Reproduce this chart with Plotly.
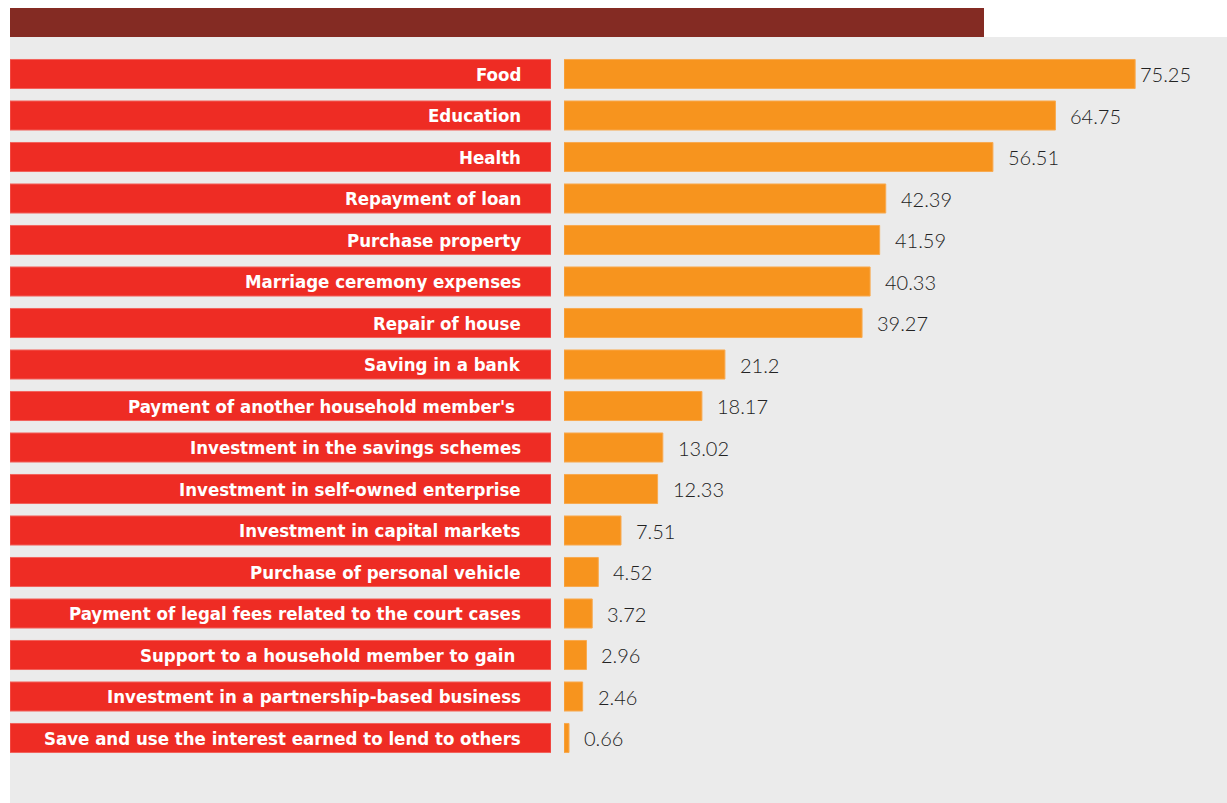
import plotly.graph_objects as go

categories = [
    "Food", "Education", "Health", "Repayment of loan", "Purchase property",
    "Marriage ceremony expenses", "Repair of house", "Saving in a bank",
    "Payment of another household member's ", "Investment in the savings schemes",
    "Investment in self-owned enterprise", "Investment in capital markets",
    "Purchase of personal vehicle", "Payment of legal fees related to the court cases",
    "Support to a household member to gain ", "Investment in a partnership-based business",
    "Save and use the interest earned to lend to others",
]
values = [75.25, 64.75, 56.51, 42.39, 41.59, 40.33, 39.27, 21.2, 18.17, 13.02,
          12.33, 7.51, 4.52, 3.72, 2.96, 2.46, 0.66]
value_labels = ["75.25", "64.75", "56.51", "42.39", "41.59", "40.33", "39.27", "21.2",
                "18.17", "13.02", "12.33", "7.51", "4.52", "3.72", "2.96", "2.46", "0.66"]

W, H = 1227, 803
RED = "#EE2C24"
ORANGE = "#F7941E"

fig = go.Figure()

# label boxes (full-width bars on a secondary x axis)
fig.add_trace(go.Bar(
    y=categories, x=[1] * len(categories), orientation="h",
    xaxis="x2", yaxis="y",
    marker=dict(color=RED, line=dict(color="#F2625C", width=1)),
    width=0.7, hoverinfo="skip", showlegend=False,
))

# value bars
fig.add_trace(go.Bar(
    y=categories, x=values, orientation="h",
    xaxis="x", yaxis="y",
    marker=dict(color=ORANGE, line=dict(color="#F8AA50", width=1)),
    width=0.7, hoverinfo="skip", showlegend=False,
))

annotations = []
vmax = max(values)
for cat, v, lab in zip(categories, values, value_labels):
    annotations.append(dict(
        x=1, y=cat, xref="x2", yref="y", text="<b>" + cat + "</b>",
        showarrow=False, xanchor="right", yanchor="middle", xshift=-28,
        font=dict(family="DejaVu Sans Condensed, Liberation Sans Narrow, Roboto", size=18.5, color="white"),
    ))
    annotations.append(dict(
        x=v, y=cat, xref="x", yref="y", text=lab,
        showarrow=False, xanchor="left", yanchor="middle",
        xshift=3 if v == vmax else 13,
        font=dict(family="Lato, Open Sans, sans-serif", size=20, color="#222222", weight=300),
    ))

x0 = 564
scale = 7.59  # px per unit
shapes = [
    dict(type="rect", xref="paper", yref="paper", x0=10 / W, x1=984 / W,
         y0=1 - 37 / H, y1=1 - 8 / H, fillcolor="#842B23", line=dict(width=0), layer="below"),
    dict(type="rect", xref="paper", yref="paper", x0=10 / W, x1=1,
         y0=0, y1=1 - 37 / H, fillcolor="#EBEBEB", line=dict(width=0), layer="below"),
]

n = len(categories)
pitch = (738 - 74) / (n - 1)
top = 74 - pitch / 2
bottom = 738 + pitch / 2

fig.update_layout(
    width=W, height=H,
    margin=dict(l=0, r=0, t=0, b=0),
    paper_bgcolor="white", plot_bgcolor="rgba(0,0,0,0)",
    barmode="overlay",
    xaxis=dict(domain=[x0 / W, 1], range=[0, (W - x0) / scale], visible=False, fixedrange=True),
    xaxis2=dict(domain=[10 / W, 551 / W], range=[0, 1], visible=False, anchor="y", fixedrange=True),
    yaxis=dict(domain=[1 - bottom / H, 1 - top / H], range=[n - 0.5, -0.5],
               visible=False, type="category", categoryorder="array", categoryarray=categories),
    shapes=shapes,
    annotations=annotations,
)

fig.write_html("out.html")
